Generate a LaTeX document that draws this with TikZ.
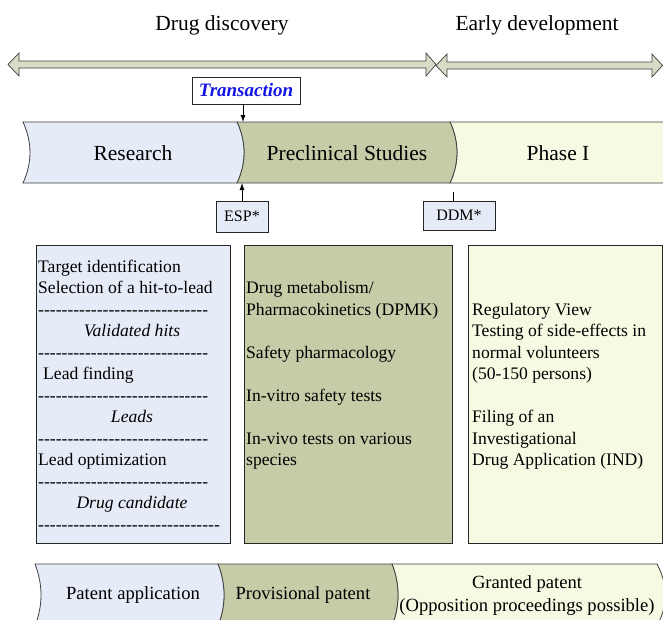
\documentclass[tikz,border=0pt]{standalone}
\usepackage{fontspec}
\setmainfont{Liberation Serif}
\usetikzlibrary{arrows.meta}

\definecolor{rescol}{HTML}{E6ECF7}
\definecolor{precol}{HTML}{C6CCA8}
\definecolor{phacol}{HTML}{F8F9E2}
\definecolor{arrcol}{HTML}{D8DCC6}
\definecolor{edgecol}{HTML}{404040}
\definecolor{trcol}{HTML}{1414E6}

% a row of separate hyphens (kerns keep them from joining into dashes)
\newcommand\hyphrow[1]{\foreach \k in {1,...,#1}{-\kern0pt}}

\tikzset{
  band/.style={draw=edgecol, line width=0.8pt},
  dblarrow/.style={draw=edgecol, fill=arrcol, line width=0.7pt, line join=miter},
  title/.style={font=\fontsize{21.5}{25}\selectfont, inner sep=0pt},
  bandlbl/.style={font=\fontsize{21.5}{25}\selectfont, inner sep=0pt},
  patlbl/.style={font=\fontsize{18.6}{23}\selectfont, inner sep=0pt, align=center},
  bigbox/.style={draw=black!85, line width=0.8pt},
  txt/.style={font=\fontsize{17.6}{21.5}\selectfont, inner sep=0pt, anchor=base west},
  itxt/.style={font=\fontsize{17.6}{21.5}\selectfont\itshape, inner sep=0pt, anchor=base},
  smallbox/.style={draw=black!85, fill=rescol, line width=0.8pt, inner sep=0pt,
    font=\fontsize{16}{19}\selectfont},
  marker/.style={-{Latex[length=7pt,width=5pt]}, line width=0.8pt}
}

\begin{document}
\begin{tikzpicture}[x=1pt,y=-1pt]
\useasboundingbox (0,0) rectangle (663,619);
\fill[white] (0,0) rectangle (663,619);
\begin{scope}
\clip (0,0) rectangle (663,619);

% headings
\node[title] (drugdisc) at (222,25) {Drug discovery};
\node[title] (earlydev) at (537,25) {Early development};

% double-headed arrows
\draw[dblarrow] (8,64.5) -- (19,53) -- (19,61) -- (426,61) -- (426,53) -- (436,64.5)
  -- (426,76) -- (426,68) -- (19,68) -- (19,76) -- cycle;
\draw[dblarrow] (436,65.5) -- (447,54) -- (447,62) -- (652,62) -- (652,54) -- (662.5,65.5)
  -- (652,77) -- (652,69) -- (447,69) -- (447,77) -- cycle;

% stage band (top 122, bottom 183)
\draw[band, fill=phacol] (450,122) .. controls (459.3,142.3) and (459.3,162.7) .. (450,183)
  -- (670,183) -- (670,122) -- cycle;
\draw[band, fill=precol] (237,122) .. controls (246.3,142.3) and (246.3,162.7) .. (237,183)
  -- (450,183) .. controls (459.3,162.7) and (459.3,142.3) .. (450,122) -- cycle;
\draw[band, fill=rescol] (23,122) .. controls (32.3,142.3) and (32.3,162.7) .. (23,183)
  -- (237,183) .. controls (246.3,162.7) and (246.3,142.3) .. (237,122) -- cycle;

\node[bandlbl] (research) at (133,153) {Research};
\node[bandlbl] (preclin) at (347,153) {Preclinical Studies};
\node[bandlbl] (phaseone) at (558,153) {Phase I};

% milestone markers
\coordinate (bandtop) at (243,122);
\coordinate (bandbot) at (242,183);
\coordinate (ddmtick) at (453,192);

\node[draw=black!85, fill=white, line width=0.8pt, minimum width=108pt, minimum height=27pt,
  inner sep=0pt, font=\fontsize{19}{22}\selectfont\bfseries\itshape, text=trcol]
  (trans) at (246,90.5) {Transaction};
\draw[marker] (trans.south -| bandtop) -- (bandtop);

\node[smallbox, minimum width=52pt, minimum height=31pt] (esp) at (242,216.5) {ESP*};
\draw[marker] (esp.north -| bandbot) -- (bandbot);

\node[smallbox, minimum width=72pt, minimum height=29pt] (ddm) at (459,215.5) {DDM*};
\draw[line width=0.8pt] (ddm.north -| ddmtick) -- (ddmtick);

% activity boxes
\draw[bigbox, fill=rescol] (36,245) rectangle (230,543);
\draw[bigbox, fill=precol] (244,245) rectangle (452,543);
\draw[bigbox, fill=phacol] (468,245) rectangle (662,543);

% research activities
\node[txt] (r0) at (38,272) {Target identification};
\node[txt] (r1) at (38,293.5) {Selection of a hit-to-lead};
\node[txt] (r2) at (38,315) {\hyphrow{29}};
\node[itxt] (r3) at (132,336.5) {Validated hits};
\node[txt] (r4) at (38,358) {\hyphrow{29}};
\node[txt] (r5) at (43,379.5) {Lead finding};
\node[txt] (r6) at (38,401) {\hyphrow{29}};
\node[itxt] (r7) at (132,422.5) {Leads};
\node[txt] (r8) at (38,444) {\hyphrow{29}};
\node[txt] (r9) at (38,465.5) {Lead optimization};
\node[txt] (r10) at (38,487) {\hyphrow{29}};
\node[itxt] (r11) at (132,508.5) {Drug candidate};
\node[txt] (r12) at (38,530) {\hyphrow{31}};

% preclinical activities
\node[txt] (p0) at (246,293.5) {Drug metabolism/};
\node[txt] (p1) at (246,315) {Pharmacokinetics (DPMK)};
\node[txt] (p2) at (246,358) {Safety pharmacology};
\node[txt] (p3) at (246,401) {In-vitro safety tests};
\node[txt] (p4) at (246,444) {In-vivo tests on various};
\node[txt] (p5) at (246,465.5) {species};

% phase I activities
\node[txt] (f0) at (472,315) {Regulatory View};
\node[txt] (f1) at (472,336.5) {Testing of side-effects in};
\node[txt] (f2) at (472,358) {normal volunteers};
\node[txt] (f3) at (472,379.5) {(50-150 persons)};
\node[txt] (f4) at (472,422.5) {Filing of an};
\node[txt] (f5) at (472,444) {Investigational};
\node[txt] (f6) at (472,465.5) {Drug Application (IND)};

% patent band (top 564, bottom 626)
\draw[band, fill=phacol] (392,564) .. controls (400,584.7) and (400,605.3) .. (392,626)
  -- (657,626) .. controls (668,605.3) and (668,584.7) .. (657,564) -- cycle;
\draw[band, fill=precol] (218,564) .. controls (226,584.7) and (226,605.3) .. (218,626)
  -- (392,626) .. controls (400,605.3) and (400,584.7) .. (392,564) -- cycle;
\draw[band, fill=rescol] (35,564) .. controls (43,584.7) and (43,605.3) .. (35,626)
  -- (218,626) .. controls (226,605.3) and (226,584.7) .. (218,564) -- cycle;

\node[patlbl] (patapp) at (133,595) {Patent application};
\node[patlbl] (provpat) at (303,595) {Provisional patent};
\node[patlbl] (grant) at (527,596) {Granted patent\\(Opposition proceedings possible)};
\end{scope}
\end{tikzpicture}
\end{document}
